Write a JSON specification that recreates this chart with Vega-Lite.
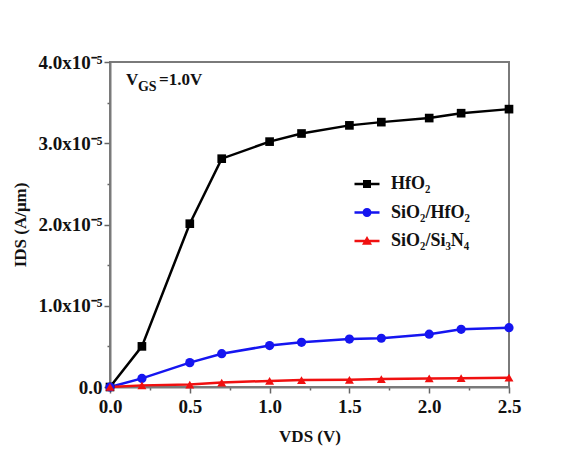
{
  "$schema": "https://vega.github.io/schema/vega-lite/v6.json",
  "width": 399,
  "height": 325,
  "autosize": {"type": "none"},
  "padding": {"left": 110, "top": 62, "right": 75, "bottom": 70},
  "background": "white",
  "config": {
    "font": "Liberation Serif",
    "view": {"stroke": "#7a7a7a", "strokeWidth": 2},
    "axis": {
      "grid": false,
      "domainColor": "#7a7a7a",
      "domainWidth": 2,
      "tickColor": "#666666",
      "tickWidth": 1.5,
      "labelFont": "Liberation Serif",
      "labelFontWeight": "bold",
      "labelFontSize": 19,
      "labelColor": "#111111",
      "titleFont": "Liberation Serif",
      "titleFontWeight": "bold",
      "titleFontSize": 17,
      "titleColor": "#111111"
    },
    "legend": {
      "orient": "none",
      "legendX": 248,
      "legendY": 113,
      "padding": 0,
      "labelFont": "Liberation Serif",
      "labelFontWeight": "bold",
      "labelFontSize": 18,
      "labelColor": "#111111",
      "symbolSize": 100,
      "labelOffset": 15,
      "rowPadding": 10.5,
      "symbolStrokeWidth": 0
    }
  },
  "data": {
    "values": [
      {"V": 0.0, "I": 0.0, "s": "HfO₂"},
      {"V": 0.2, "I": 5.0e-6, "s": "HfO₂"},
      {"V": 0.5, "I": 2.01e-5, "s": "HfO₂"},
      {"V": 0.7, "I": 2.81e-5, "s": "HfO₂"},
      {"V": 1.0, "I": 3.02e-5, "s": "HfO₂"},
      {"V": 1.2, "I": 3.12e-5, "s": "HfO₂"},
      {"V": 1.5, "I": 3.22e-5, "s": "HfO₂"},
      {"V": 1.7, "I": 3.26e-5, "s": "HfO₂"},
      {"V": 2.0, "I": 3.31e-5, "s": "HfO₂"},
      {"V": 2.2, "I": 3.37e-5, "s": "HfO₂"},
      {"V": 2.5, "I": 3.42e-5, "s": "HfO₂"},
      {"V": 0.0, "I": 0.0, "s": "SiO₂/HfO₂"},
      {"V": 0.2, "I": 1.06e-6, "s": "SiO₂/HfO₂"},
      {"V": 0.5, "I": 3.0e-6, "s": "SiO₂/HfO₂"},
      {"V": 0.7, "I": 4.1e-6, "s": "SiO₂/HfO₂"},
      {"V": 1.0, "I": 5.1e-6, "s": "SiO₂/HfO₂"},
      {"V": 1.2, "I": 5.5e-6, "s": "SiO₂/HfO₂"},
      {"V": 1.5, "I": 5.9e-6, "s": "SiO₂/HfO₂"},
      {"V": 1.7, "I": 6.0e-6, "s": "SiO₂/HfO₂"},
      {"V": 2.0, "I": 6.5e-6, "s": "SiO₂/HfO₂"},
      {"V": 2.2, "I": 7.1e-6, "s": "SiO₂/HfO₂"},
      {"V": 2.5, "I": 7.3e-6, "s": "SiO₂/HfO₂"},
      {"V": 0.0, "I": 0.0, "s": "SiO₂/Si₃N₄"},
      {"V": 0.2, "I": 2.0e-7, "s": "SiO₂/Si₃N₄"},
      {"V": 0.5, "I": 3.0e-7, "s": "SiO₂/Si₃N₄"},
      {"V": 0.7, "I": 5.5e-7, "s": "SiO₂/Si₃N₄"},
      {"V": 1.0, "I": 7.5e-7, "s": "SiO₂/Si₃N₄"},
      {"V": 1.2, "I": 8.5e-7, "s": "SiO₂/Si₃N₄"},
      {"V": 1.5, "I": 8.8e-7, "s": "SiO₂/Si₃N₄"},
      {"V": 1.7, "I": 9.8e-7, "s": "SiO₂/Si₃N₄"},
      {"V": 2.0, "I": 1.05e-6, "s": "SiO₂/Si₃N₄"},
      {"V": 2.2, "I": 1.08e-6, "s": "SiO₂/Si₃N₄"},
      {"V": 2.5, "I": 1.15e-6, "s": "SiO₂/Si₃N₄"}
    ]
  },
  "encoding": {
    "x": {
      "field": "V",
      "type": "quantitative",
      "scale": {"domain": [0, 2.5], "nice": false},
      "axis": {
        "title": "VDS (V)",
        "values": [0, 0.25, 0.5, 0.75, 1, 1.25, 1.5, 1.75, 2, 2.25, 2.5],
        "labelExpr": "(datum.value * 2) % 1 === 0 ? format(datum.value, '.1f') : ''",
        "tickSize": {"condition": {"test": "(datum.value * 2) % 1 !== 0", "value": 3}, "value": 6},
        "labelPadding": 4,
        "titlePadding": 12,
        "labelFlush": false
      }
    },
    "y": {
      "field": "I",
      "type": "quantitative",
      "scale": {"domain": [0, 4e-5], "nice": false},
      "axis": {
        "title": "IDS (A/μm)",
        "values": [0, 5e-6, 1e-5, 1.5e-5, 2e-5, 2.5e-5, 3e-5, 3.5e-5, 4e-5],
        "labelExpr": "datum.value === 0 ? '0.0' : (round(datum.value * 2e5) % 2 === 1 ? '' : format(datum.value * 1e5, '.1f') + 'x10⁻⁵')",
        "tickSize": {"condition": {"test": "round(datum.value * 2e5) % 2 === 1", "value": 3}, "value": 6},
        "labelPadding": 2,
        "titlePadding": 9,
        "labelFlush": false
      }
    }
  },
  "layer": [
    {
      "mark": {"type": "line", "strokeWidth": 2.5},
      "encoding": {
        "stroke": {
          "field": "s",
          "type": "nominal",
          "scale": {"range": ["#000000", "#1515f0", "#f01010"]},
          "legend": null
        }
      }
    },
    {
      "transform": [{"filter": "datum.s === 'HfO₂'"}],
      "mark": {"type": "point", "filled": true, "size": 75, "opacity": 1, "shape": "square"},
      "encoding": {
        "fill": {
          "field": "s",
          "type": "nominal",
          "scale": {"range": ["#000000", "#1515f0", "#f01010"]},
          "legend": null
        }
      }
    },
    {
      "transform": [{"filter": "datum.s === 'SiO₂/HfO₂'"}],
      "mark": {"type": "point", "filled": true, "size": 85, "opacity": 1, "shape": "circle"},
      "encoding": {"fill": {"field": "s", "type": "nominal", "legend": null}}
    },
    {
      "transform": [{"filter": "datum.s === 'SiO₂/Si₃N₄'"}],
      "mark": {"type": "point", "filled": true, "size": 80, "opacity": 1, "shape": "triangle-up"},
      "encoding": {"fill": {"field": "s", "type": "nominal", "legend": null}}
    },
    {
      "transform": [{"filter": "false"}],
      "mark": {"type": "point", "filled": true, "size": 100, "opacity": 1},
      "encoding": {
        "color": {
          "field": "s",
          "type": "nominal",
          "scale": {"domain": ["HfO₂", "SiO₂/HfO₂", "SiO₂/Si₃N₄"], "range": ["#000000", "#1515f0", "#f01010"]},
          "legend": {"title": null}
        },
        "shape": {
          "field": "s",
          "type": "nominal",
          "scale": {
            "domain": ["HfO₂", "SiO₂/HfO₂", "SiO₂/Si₃N₄"],
            "range": [
              "M-2.5,-0.25H-0.6V0.25H-2.5Z M0.6,-0.25H2.5V0.25H0.6Z M-0.8,-0.8H0.8V0.8H-0.8Z",
              "M-2.5,-0.25H-0.6V0.25H-2.5Z M0.6,-0.25H2.5V0.25H0.6Z M-0.9,0A0.9,0.9,0,1,1,0.9,0A0.9,0.9,0,1,1,-0.9,0Z",
              "M-2.5,-0.25H2.5V0.25H-2.5Z M0,-1L1,0.75L-1,0.75Z"
            ]
          },
          "legend": {"title": null}
        }
      }
    },
    {
      "transform": [{"filter": "datum.V === 0 && datum.s === 'HfO₂'"}],
      "mark": {"type": "text", "text": "V", "align": "left", "baseline": "alphabetic", "fontSize": 17, "fontWeight": "bold", "font": "Liberation Serif", "color": "#111111"},
      "encoding": {"x": {"datum": 0.1}, "y": {"datum": 3.72e-5}}
    },
    {
      "transform": [{"filter": "datum.V === 0 && datum.s === 'HfO₂'"}],
      "mark": {"type": "text", "text": "GS", "align": "left", "baseline": "alphabetic", "fontSize": 14, "fontWeight": "bold", "font": "Liberation Serif", "color": "#111111", "dx": 12, "dy": 6},
      "encoding": {"x": {"datum": 0.1}, "y": {"datum": 3.72e-5}}
    },
    {
      "transform": [{"filter": "datum.V === 0 && datum.s === 'HfO₂'"}],
      "mark": {"type": "text", "text": "=1.0V", "align": "left", "baseline": "alphabetic", "fontSize": 17, "fontWeight": "bold", "font": "Liberation Serif", "color": "#111111", "dx": 33},
      "encoding": {"x": {"datum": 0.1}, "y": {"datum": 3.72e-5}}
    }
  ]
}
